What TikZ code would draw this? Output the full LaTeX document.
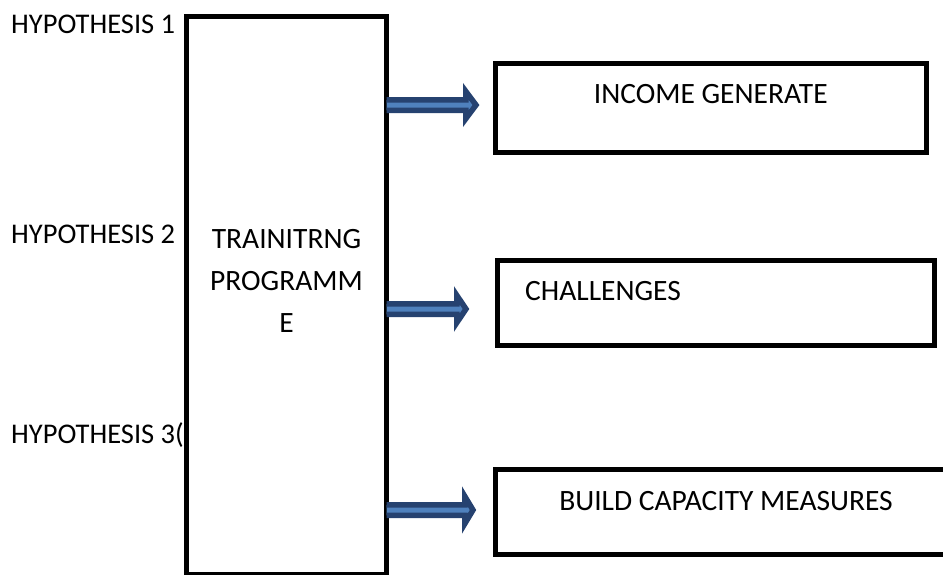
\documentclass[tikz,border=0pt]{standalone}
\usepackage{fontspec}
\setmainfont{Carlito}
\usetikzlibrary{calc}
\definecolor{arrowfill}{RGB}{79,129,189}
\definecolor{arrowline}{RGB}{38,66,112}
\tikzset{
  box/.style={draw=black, line width=5pt, inner sep=0pt, outer sep=0pt},
  lbl/.style={inner sep=0pt, font=\fontsize{29.5}{42}\selectfont},
  hyp/.style={inner sep=0pt, anchor=base west, font=\fontsize{28.5}{42}\selectfont},
  blockarrow/.style={fill=arrowfill, draw=arrowline, line width=5.5pt, line join=miter}
}
\newcommand{\blockarrowat}[3]{%
  \filldraw[blockarrow] ($(#1)+(0,5.25)$) -- ($(#1)+(#2,5.25)$) -- ($(#1)+(#2,13.75)$)
    -- ($(#1)+(#3,0)$) -- ($(#1)+(#2,-13.75)$) -- ($(#1)+(#2,-5.25)$) -- ($(#1)+(0,-5.25)$);}
\begin{document}
\begin{tikzpicture}[x=1pt,y=1pt]
\useasboundingbox (0,0) rectangle (943,-574);
\clip (0,0) rectangle (943,-574);
% hypothesis labels
\node[hyp] (h1) at (11,-33) {HYPOTHESIS 1};
\node[hyp] (h2) at (11,-243) {HYPOTHESIS 2};
\node[hyp] (h3) at (11,-443) {HYPOTHESIS 3(};
% main box
\node[box, fill=white, minimum width=200pt, minimum height=558pt] (main) at (286.5,-295.5) {};
\node[lbl, align=center, anchor=base] (mt) at (286.5,-332) {TRAINITRNG\\PROGRAMM\\E};
% result boxes
\node[box, minimum width=430.5pt, minimum height=89.5pt] (b1) at (710.75,-107.75) {};
\node[box, minimum width=437.5pt, minimum height=85pt] (b2) at (715.75,-303) {};
\node[box, minimum width=452.5pt, minimum height=85pt] (b3) at (721.75,-512) {};
\node[lbl, anchor=base] (t1) at (710.75,-103) {INCOME GENERATE};
\node[lbl, anchor=base west] (t2) at (525,-300) {CHALLENGES};
\node[lbl, anchor=base] (t3) at (726,-510) {BUILD CAPACITY MEASURES};
% arrows
\coordinate (a1) at (main.east |- 0,-105);
\coordinate (a2) at (main.east |- 0,-309);
\coordinate (a3) at (main.east |- 0,-510);
\blockarrowat{a1}{79.25}{89.5}
\blockarrowat{a2}{70.25}{79.5}
\blockarrowat{a3}{78.25}{86.5}
\end{tikzpicture}
\end{document}
